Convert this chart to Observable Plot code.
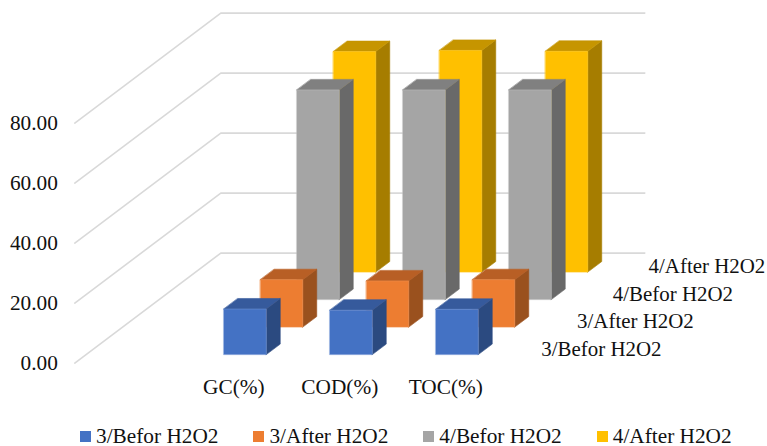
<!DOCTYPE html>
<html>
<head>
<meta charset="utf-8">
<script src="https://cdn.jsdelivr.net/npm/d3@7"></script>
<script src="https://cdn.jsdelivr.net/npm/@observablehq/plot@0.6"></script>
<style>
  html, body { margin: 0; padding: 0; background: #fff; }
  svg { display: block; }
  #legend {
    display: flex; gap: 35px; padding-left: 80px; height: 20px; align-items: center;
    font: 21.3px "Liberation Serif", serif; color: #111; white-space: nowrap;
  }
  #legend span.item { display: inline-flex; align-items: center; gap: 5px; }
  #legend i { display: block; width: 11px; height: 11px; }
</style>
</head>
<body>
<div id="chart"></div>
<div id="legend"></div>
<script>
// Clustered 3-D columns: one row of bars per series, one column slot per parameter.
const categories = ["GC(%)", "COD(%)", "TOC(%)"];
const seriesNames = ["3/Befor H2O2", "3/After H2O2", "4/Befor H2O2", "4/After H2O2"];
const before3 = [15.2, 14.8, 15.1];
const after3 = [15.8, 15.4, 15.8];
const before4 = [69.9, 69.9, 69.9];
const after4 = [73.5, 73.9, 73.6];
const seriesValues = [before3, after3, before4, after4];
const valueTicks = [0, 20, 40, 60, 80];
const frontColors = ["#4472C4", "#ED7D31", "#A5A5A5", "#FFC000"];
const edgeColors = ["#6C90D2", "#F0914F", "#B9B9B9", "#FFC81F"];
const topColors = ["#365A9C", "#B85F25", "#808080", "#C69500"];
const sideColors = ["#2B4A80", "#9A511E", "#696969", "#A67D00"];

const width = 767, height = 426;

// Oblique projection of the plot box onto the page.
const origin = [74.3, 362.6];
const depthVector = [146, -110];
const across = d3.scaleBand().domain(["", ...categories]).range([0, 424]).paddingInner(0.6).paddingOuter(0.3);
const along = d3.scaleBand().domain(seriesNames).range([0, 1]).paddingInner(0.617).paddingOuter(0.3085);
const rise = d3.scaleLinear().domain([0, 80]).range([0, -240]);
const project = (u, d, v) => ({
  px: origin[0] + u + depthVector[0] * d,
  py: origin[1] + depthVector[1] * d + rise(v)
});

// Walls: each gridline runs up the side wall and then across the back wall.
const gridlines = valueTicks.flatMap(v => [
  {v, ...project(0, 0, v)},
  {v, ...project(0, 1, v)},
  {v, ...project(424, 1, v)}
]);

// Bar faces, listed back to front so nearer bars paint over farther ones.
const faces = [];
seriesNames.map((name, s) => s).reverse().forEach(s => {
  categories.forEach((cat, c) => {
    const v = seriesValues[s][c];
    const u0 = across(cat), u1 = u0 + across.bandwidth();
    const d0 = along(seriesNames[s]), d1 = d0 + along.bandwidth();
    const add = (kind, fill, stroke, pts) => pts.forEach(p => faces.push({id: `${s}-${c}-${kind}`, fill, stroke, ...p}));
    add("side", sideColors[s], sideColors[s], [project(u1, d0, 0), project(u1, d1, 0), project(u1, d1, v), project(u1, d0, v)]);
    add("top", topColors[s], topColors[s], [project(u0, d0, v), project(u1, d0, v), project(u1, d1, v), project(u0, d1, v)]);
    add("front", frontColors[s], edgeColors[s], [project(u0, d0, 0), project(u1, d0, 0), project(u1, d0, v), project(u0, d0, v)]);
  });
});

const tickLabels = valueTicks.map(v => ({label: v.toFixed(2), ...project(0, 0, v)}));
const categoryLabels = categories.map(cat => ({label: cat, ...project(across(cat) + across.bandwidth() / 2, 0, 0)}));
// Series names sit a little tighter than the bar rows, so each is pulled back slightly.
const seriesLabels = seriesNames.map((name, s) => {
  const p = project(424, along(name) + along.bandwidth() / 2, 0);
  return {label: name, ...p, px: p.px - 0.75 * s};
});

const textStyle = {fontFamily: "Liberation Serif", fontSize: 21.3, fill: "#111"};

const chart = Plot.plot({
  width, height,
  margin: 0,
  x: {domain: [0, width], range: [0, width], axis: null},
  y: {domain: [0, height], range: [0, height], axis: null},
  color: {type: "identity"},
  marks: [
    Plot.line(gridlines, {x: "px", y: "py", z: "v", stroke: "#d9d9d9", strokeWidth: 1.6}),
    Plot.line(faces, {x: "px", y: "py", z: "id", fill: "fill", stroke: "stroke", strokeWidth: 0.6, curve: "linear-closed"}),
    Plot.text(tickLabels, {x: "px", y: "py", text: "label", textAnchor: "end", dx: -17, dy: 0.5, ...textStyle}),
    Plot.text(categoryLabels, {x: "px", y: "py", text: "label", dy: 24, ...textStyle}),
    Plot.text(seriesLabels, {x: "px", y: "py", text: "label", textAnchor: "start", dx: 24.3, dy: -0.5, ...textStyle, fontSize: 20.9})
  ]
});
document.getElementById("chart").append(chart);

// Legend row under the chart.
const legend = document.getElementById("legend");
seriesNames.forEach((name, s) => {
  const item = document.createElement("span");
  item.className = "item";
  const swatch = document.createElement("i");
  swatch.style.background = frontColors[s];
  item.append(swatch, name);
  legend.append(item);
});
</script>
</body>
</html>
